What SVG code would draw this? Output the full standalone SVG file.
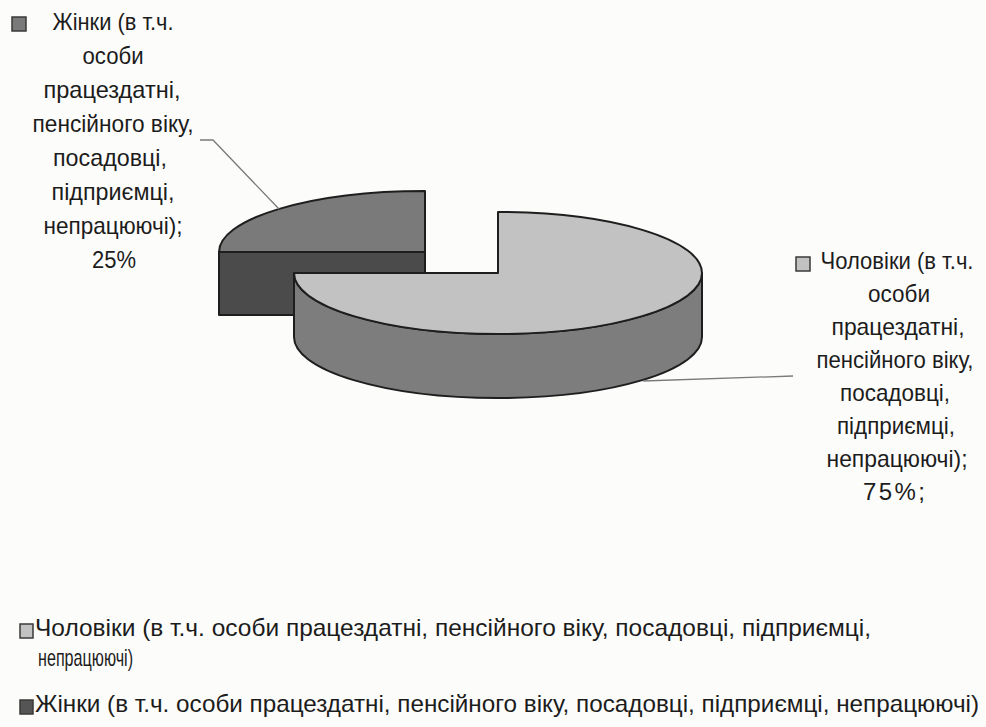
<svg xmlns="http://www.w3.org/2000/svg" width="986" height="727" viewBox="0 0 986 727">
<style>
  .bg { fill: #fcfcfb; }
  .edge { stroke: #1e1e1e; stroke-width: 2; stroke-linejoin: round; }
  .menTop { fill: #c2c2c2; }
  .menSide { fill: #7d7d7d; }
  .womTop { fill: #7a7a7a; }
  .womFace { fill: #4b4b4b; }
  .lbl { font-family: "Liberation Sans", Arial, sans-serif; font-size: 24px; fill: #1c1c1c; text-anchor: middle; }
  .leg { font-family: "Liberation Sans", Arial, sans-serif; font-size: 24px; fill: #1c1c1c; }
  .lead { fill: none; stroke: #7a7a7a; stroke-width: 1.3; }
  .sw { stroke: #3a3a3a; stroke-width: 1.5; }
</style>
<rect class="bg" x="0" y="0" width="986" height="727"/>

<g id="slice-women">
  <path class="womTop edge" d="M425,252 L219,252 A206,61 0 0,1 425,191 Z"/>
  <rect class="womFace edge" x="219" y="252" width="206" height="63"/>
</g>

<g id="slice-men">
  <path class="menSide edge" d="M294,273 L294,337 A204,61 0 0,0 702,337 L702,273 A204,61 0 0,1 294,273 Z"/>
  <path class="menTop edge" d="M498,273 L294,273 A204,61 0 1,0 498,212 Z"/>
</g>

<g id="connectors">
  <polyline class="lead" points="200,140 213,140 279,209"/>
  <line class="lead" x1="643" y1="381" x2="793" y2="376"/>
</g>

<g id="label-women">
  <rect class="sw" x="12" y="17" width="14" height="14" fill="#7a7a7a"/>
  <text class="lbl" x="113" y="30" textLength="121" lengthAdjust="spacingAndGlyphs">Жінки (в т.ч.</text>
  <text class="lbl" x="113" y="64" textLength="61" lengthAdjust="spacingAndGlyphs">особи</text>
  <text class="lbl" x="112" y="98" textLength="137" lengthAdjust="spacingAndGlyphs">працездатні,</text>
  <text class="lbl" x="113" y="132" textLength="161" lengthAdjust="spacingAndGlyphs">пенсійного віку,</text>
  <text class="lbl" x="110" y="166" textLength="114" lengthAdjust="spacingAndGlyphs">посадовці,</text>
  <text class="lbl" x="113" y="200" textLength="123" lengthAdjust="spacingAndGlyphs">підприємці,</text>
  <text class="lbl" x="113" y="234" textLength="139" lengthAdjust="spacingAndGlyphs">непрацюючі);</text>
  <text class="lbl" x="114" y="268" textLength="44" lengthAdjust="spacingAndGlyphs">25%</text>
</g>

<g id="label-men">
  <rect class="sw" x="796" y="257" width="14" height="14" fill="#c2c2c2"/>
  <text class="lbl" x="897" y="269" textLength="153" lengthAdjust="spacingAndGlyphs">Чоловіки (в т.ч.</text>
  <text class="lbl" x="899" y="302" textLength="62" lengthAdjust="spacingAndGlyphs">особи</text>
  <text class="lbl" x="898" y="335" textLength="133" lengthAdjust="spacingAndGlyphs">працездатні,</text>
  <text class="lbl" x="895" y="368" textLength="157" lengthAdjust="spacingAndGlyphs">пенсійного віку,</text>
  <text class="lbl" x="895" y="401" textLength="110" lengthAdjust="spacingAndGlyphs">посадовці,</text>
  <text class="lbl" x="896" y="434" textLength="118" lengthAdjust="spacingAndGlyphs">підприємці,</text>
  <text class="lbl" x="897" y="467" textLength="141" lengthAdjust="spacingAndGlyphs">непрацюючі);</text>
  <text class="lbl" x="894" y="500" textLength="62" lengthAdjust="spacing">75%;</text>
</g>

<g id="legend">
  <rect class="sw" x="20" y="624" width="13" height="14" fill="#c2c2c2"/>
  <text class="leg" x="35" y="636" textLength="836" lengthAdjust="spacingAndGlyphs">Чоловіки (в т.ч. особи працездатні, пенсійного віку, посадовці, підприємці,</text>
  <text class="leg" x="38" y="666" textLength="95" lengthAdjust="spacingAndGlyphs">непрацюючі)</text>
  <rect class="sw" x="20" y="700" width="13" height="14" fill="#555555"/>
  <text class="leg" x="35" y="712" textLength="944" lengthAdjust="spacingAndGlyphs">Жінки (в т.ч. особи працездатні, пенсійного віку, посадовці, підприємці, непрацюючі)</text>
</g>
</svg>
